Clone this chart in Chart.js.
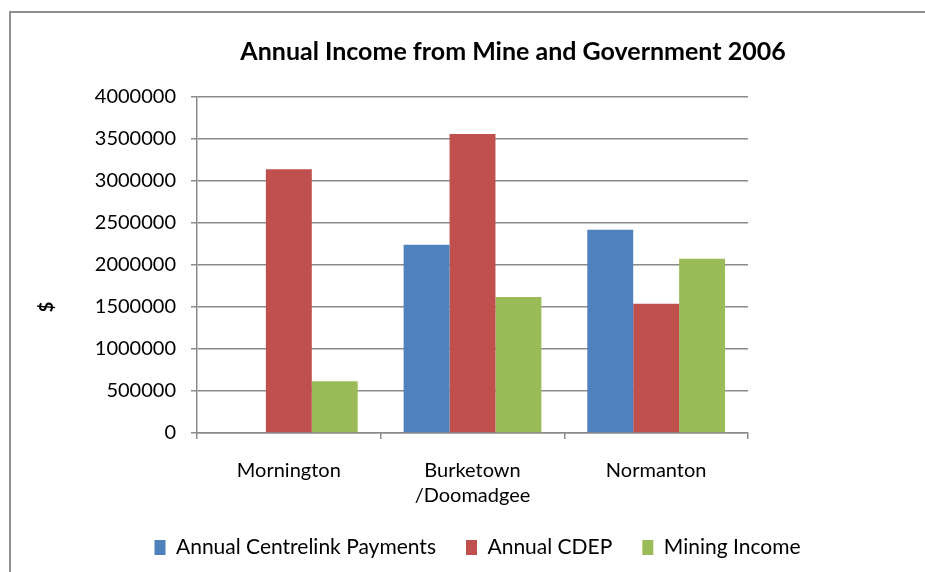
<!DOCTYPE html>
<html>
<head>
<meta charset="utf-8">
<title>Annual Income from Mine and Government 2006</title>
<script src="https://cdn.jsdelivr.net/npm/chart.js@4.4.1/dist/chart.umd.min.js"></script>
<style>
  html, body { margin: 0; padding: 0; background: #ffffff; overflow: hidden; }
  #wrap { position: relative; width: 925px; height: 572px; }
  canvas { display: block; }
</style>
</head>
<body>
<div id="wrap"><canvas id="income" width="925" height="572"></canvas></div>
<script>
// Chart text
const chartTitle = 'Annual Income from Mine and Government 2006';
const yAxisTitle = '$';

// Communities (multi-line labels are arrays)
const towns = [['Mornington'], ['Burketown', '/Doomadgee'], ['Normanton']];

// Series, in dollars per year
const seriesNames = ['Annual Centrelink Payments', 'Annual CDEP', 'Mining Income'];
const centrelinkPayments = [null, 2240000, 2420000];
const cdepPayments = [3140000, 3560000, 1540000];
const miningIncome = [615000, 1620000, 2075000];

// Value axis ticks
const yTicks = [0, 500000, 1000000, 1500000, 2000000, 2500000, 3000000, 3500000, 4000000];

const seriesColours = ['#4F81BD', '#C0504D', '#9BBB59'];
const axisGrey = '#8a8a8a';
const fontFamily = 'Lato, "Open Sans", sans-serif';

// Frame, heading and the rotated value-axis caption
const captions = {
  id: 'captions',
  beforeDraw(chart) {
    const ctx = chart.ctx;
    ctx.save();
    ctx.strokeStyle = '#8f8f8f';
    ctx.lineWidth = 2;
    ctx.beginPath();
    ctx.moveTo(10, chart.height);
    ctx.lineTo(10, 12);
    ctx.lineTo(chart.width, 12);
    ctx.stroke();
    ctx.restore();
  },
  afterDraw(chart) {
    const ctx = chart.ctx;
    ctx.save();
    ctx.fillStyle = '#000';
    ctx.textAlign = 'center';
    ctx.textBaseline = 'middle';
    ctx.font = 'bold 25px ' + fontFamily;
    ctx.fillText(chartTitle, 513, 52);
    ctx.translate(47, 307);
    ctx.rotate(-Math.PI / 2);
    ctx.font = 'bold 18px ' + fontFamily;
    ctx.fillText(yAxisTitle, 0, 0);
    ctx.restore();
  }
};

function build() {
  const values = [centrelinkPayments, cdepPayments, miningIncome];
  new Chart(document.getElementById('income'), {
    type: 'bar',
    data: {
      labels: towns,
      datasets: seriesNames.map((name, i) => ({
        label: name,
        data: values[i],
        backgroundColor: seriesColours[i],
        borderWidth: 0,
        categoryPercentage: 0.75,
        barPercentage: 1.0,
        yAxisID: 'y'
      }))
    },
    options: {
      responsive: false,
      devicePixelRatio: 1,
      animation: false,
      layout: { padding: { left: 30, right: 0, top: 97, bottom: 4 } },
      plugins: {
        title: { display: false },
        tooltip: { enabled: false },
        legend: {
          position: 'bottom',
          labels: {
            boxWidth: 11,
            boxHeight: 15,
            padding: 30,
            color: '#000',
            font: { family: fontFamily, size: 21 }
          }
        }
      },
      scales: {
        x: {
          offset: true,
          grid: {
            display: true,
            offset: true,
            drawOnChartArea: false,
            drawTicks: true,
            tickLength: 6,
            color: axisGrey,
            lineWidth: 1.5
          },
          border: { display: true, color: axisGrey, width: 1.5 },
          ticks: {
            color: '#000',
            padding: 19,
            maxRotation: 0,
            font: { family: fontFamily, size: 20, lineHeight: 1.25 }
          },
          afterFit(scale) { scale.height = 74; }
        },
        y: {
          position: 'left',
          min: 0,
          max: 4000000,
          grid: { color: axisGrey, tickLength: 6, lineWidth: 1.5 },
          border: { display: true, color: axisGrey, width: 1.5 },
          ticks: {
            color: '#000',
            padding: 15,
            font: { family: fontFamily, size: 20 },
            callback: (v) => String(v)
          },
          afterBuildTicks(scale) { scale.ticks = yTicks.map((v) => ({ value: v })); },
          afterFit(scale) { scale.width = 167; }
        },
        // reserves the empty band on the right of the plot
        spacer: {
          position: 'right',
          display: true,
          grid: { display: false },
          border: { display: false },
          ticks: { display: false },
          afterFit(scale) { scale.width = 177; }
        }
      }
    },
    plugins: [captions]
  });
}

Promise.all([
  document.fonts.load('20px Lato'),
  document.fonts.load('bold 25px Lato')
]).then(build, build);
</script>
</body>
</html>
